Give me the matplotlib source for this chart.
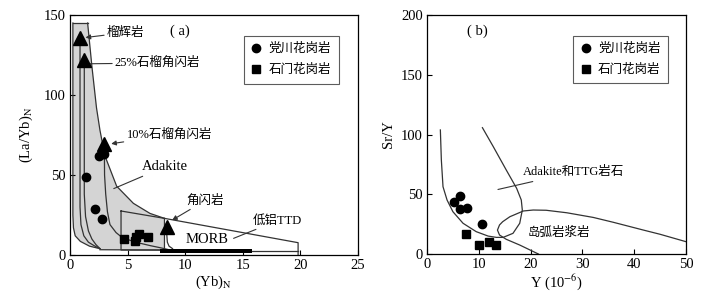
import matplotlib
matplotlib.use('Agg')
import matplotlib.pyplot as plt
from matplotlib.patches import Polygon

plt.rcParams['font.family'] = ['Liberation Serif', 'Noto Sans CJK SC']
plt.rcParams['mathtext.fontset'] = 'stix'
plt.rcParams['axes.linewidth'] = 0.9

# ---- panel (a): (Yb)N vs (La/Yb)N ----
dc_yb = [1.39, 2.17, 2.75, 2.54, 2.95]
dc_layb = [49, 28.5, 22.5, 62, 63]
sm_yb = [4.65, 5.6, 5.95, 6.8, 5.75]
sm_layb = [10.3, 8.8, 13.0, 11.0, 11.5]
tri_yb = [0.87, 1.24, 2.98, 8.38]
tri_layb = [135.5, 122, 69.5, 17.7]

# field boundaries
adakite_right_x = [1.53, 1.9, 2.3, 2.6, 3.03, 4.05, 5.5, 6.94, 8.2]
adakite_right_y = [145, 118, 92, 78, 62, 43, 32.3, 26, 22.9]
outer_left_x = [0.25, 0.25, 0.3, 0.45, 0.9, 1.7, 2.6]
outer_left_y = [145, 25, 17, 12, 8.5, 5.5, 4.0]
ecl_x = [0.87, 0.87, 0.95, 1.2, 1.6, 2.1, 2.6]
ecl_y = [135, 30, 19, 12, 8, 5.8, 4.0]
g25_x = [1.24, 1.24, 1.35, 1.6, 1.9, 2.25, 2.6]
g25_y = [122, 38, 24, 15, 10, 6.5, 4.0]
g10_x = [2.98, 3.0, 3.1, 3.25, 3.47, 4.0, 4.43, 5.2, 6.0, 7.0, 7.8, 8.6]
g10_y = [69, 50, 38, 27, 19, 14, 11.5, 9.2, 7.5, 5.8, 4.6, 3.3]
amph_x = [4.43, 8.2, 8.2, 4.43, 4.43]
amph_y = [27.5, 22.9, 3.1, 3.1, 27.5]
amph_curve_x = [8.38, 8.45, 8.6, 8.9]
amph_curve_y = [15, 8, 5.5, 4.0]
ttd_x = [8.2, 19.8, 19.8]
ttd_y = [22.9, 7.7, 0]
ttd_base_x = [8.2, 19.8]
ttd_base_y = [2.7, 2.7]
morb_x = [7.8, 15.8]
morb_y = [1.0, 4.0]

# ---- panel (b): Y vs Sr/Y ----
dc_y = [5.2, 6.44, 6.44, 7.8, 10.6]
dc_sry = [43.2, 48.8, 37.4, 38.2, 25.1]
sm_y = [7.6, 10.0, 11.9, 13.3]
sm_sry = [16.7, 7.5, 9.8, 7.5]

adk_x = [2.58, 2.77, 3.09, 3.87, 5.0, 6.96, 9.5, 11.8, 13.4, 14.7, 16.6,
         17.9, 18.4, 18.2, 17.3, 15.3, 12.8, 10.7]
adk_y = [103.8, 78.7, 56.3, 45.2, 35.4, 25.7, 18.7, 15.0, 13.9, 13.9, 17.3,
         25.7, 36.8, 45.2, 55.0, 70.3, 89.8, 105.7]
arc_x = [50, 45, 41.8, 36, 32.1, 27, 23, 20.5, 18.6, 16, 14.6, 14.0, 13.6,
         14.0, 15.3, 17.9, 21.5]
arc_y = [10.3, 16.5, 20, 26.5, 30.6, 34.5, 36.6, 36.8, 36.0, 31.2, 27,
         24.3, 20, 15.9, 12.3, 7.5, 0]

fig = plt.figure(figsize=(7.09, 3.08), dpi=100)
ax1 = fig.add_axes([70 / 709, 53 / 308, 288 / 709, 240 / 308])
ax2 = fig.add_axes([427 / 709, 54 / 308, 259 / 709, 239 / 308])

lc = '#333333'
lw = 0.9

# gray adakite field
gx = outer_left_x[:1] + adakite_right_x + [8.2, 8.2, 2.6] + outer_left_x[::-1][1:]
gy = [145] + adakite_right_y + [22.9, 3.1, 3.3] + outer_left_y[::-1][1:]
ax1.add_patch(Polygon(list(zip(gx, gy)), closed=True, facecolor='#d4d4d4',
                      edgecolor='none', zorder=1))
ax1.plot([0.25, 1.53], [145, 145], color=lc, lw=lw, zorder=2)
ax1.plot(adakite_right_x, adakite_right_y, color=lc, lw=lw, zorder=2)
ax1.plot(outer_left_x, outer_left_y, color=lc, lw=lw, zorder=2)
ax1.plot(ecl_x, ecl_y, color=lc, lw=lw, zorder=2)
ax1.plot(g25_x, g25_y, color=lc, lw=lw, zorder=2)
ax1.plot(g10_x, g10_y, color=lc, lw=lw, zorder=2)
ax1.plot([2.6, 8.2], [3.3, 3.1], color=lc, lw=lw, zorder=2)
ax1.plot(amph_x, amph_y, color=lc, lw=lw, zorder=2)
ax1.plot(amph_curve_x, amph_curve_y, color=lc, lw=lw, zorder=2)
ax1.plot(ttd_x, ttd_y, color=lc, lw=lw, zorder=2)
ax1.plot(ttd_base_x, ttd_base_y, color=lc, lw=lw, zorder=2)
ax1.fill_between(morb_x, morb_y[0], morb_y[1], color='black', lw=0, zorder=3)

ax1.plot(tri_yb, tri_layb, '^', color='black', ms=9.5, zorder=4)
ax1.plot(dc_yb, dc_layb, 'o', color='black', ms=6, ls='none', zorder=5,
         label='党川花岗岩')
ax1.plot(sm_yb, sm_layb, 's', color='black', ms=6, ls='none', zorder=5,
         label='石门花岗岩')

fs = 9
ls = 10.5
arrow = dict(arrowstyle='-|>', color=lc, lw=0.8, mutation_scale=7,
             shrinkA=0, shrinkB=4)
line = dict(arrowstyle='-', color=lc, lw=0.8, shrinkA=0, shrinkB=0)
ax1.annotate('榴辉岩', xy=(0.87, 135.5), xytext=(3.2, 139), fontsize=fs,
             va='center', arrowprops=arrow)
ax1.annotate('25%石榴角闪岩', xy=(1.45, 119.5), xytext=(3.9, 120), fontsize=fs,
             va='center', arrowprops=line)
ax1.annotate('10%石榴角闪岩', xy=(3.1, 69), xytext=(4.9, 75), fontsize=fs,
             va='center', arrowprops=arrow)
ax1.annotate('Adakite', xy=(3.8, 41.5), xytext=(6.2, 55), fontsize=ls,
             va='center', arrowprops=line)
ax1.annotate('角闪岩', xy=(8.45, 20), xytext=(10.1, 34), fontsize=fs,
             va='center', arrowprops=arrow)
ax1.annotate('低铝TTD', xy=(14.2, 10.4), xytext=(15.9, 21.5), fontsize=fs,
             va='center', arrowprops=line)
ax1.text(10.0, 9.5, 'MORB', fontsize=ls, va='center')
ax1.text(8.7, 140, '( a)', fontsize=ls, va='center')

ax1.set_xlim(0, 25)
ax1.set_ylim(0, 150)
ax1.set_xticks([0, 5, 10, 15, 20, 25])
ax1.set_yticks([0, 50, 100, 150])
ax1.set_xlabel('(Yb)$_\\mathrm{N}$', fontsize=ls, labelpad=1)
ax1.set_ylabel('(La/Yb)$_\\mathrm{N}$', fontsize=ls, labelpad=6)

# panel (b)
ax2.plot(adk_x, adk_y, color=lc, lw=lw)
ax2.plot(arc_x, arc_y, color=lc, lw=lw)
ax2.plot(dc_y, dc_sry, 'o', color='black', ms=6, ls='none',
         label='党川花岗岩')
ax2.plot(sm_y, sm_sry, 's', color='black', ms=6, ls='none',
         label='石门花岗岩')
ax2.annotate('Adakite和TTG岩石', xy=(13.7, 54), xytext=(18.6, 68.5),
             fontsize=fs, va='center',
             arrowprops=dict(arrowstyle='-', color=lc, lw=0.8, shrinkA=2, shrinkB=0))
ax2.text(19.5, 18, '岛弧岩浆岩', fontsize=fs, va='center')
ax2.text(7.7, 186.5, '( b)', fontsize=ls, va='center')
ax2.set_xlim(0, 50)
ax2.set_ylim(0, 200)
ax2.set_xticks([0, 10, 20, 30, 40, 50])
ax2.set_yticks([0, 50, 100, 150, 200])
ax2.set_xlabel('Y (10$^{-6}$)', fontsize=ls, labelpad=1)
ax2.set_ylabel('Sr/Y', fontsize=ls, labelpad=4)

for ax in (ax1, ax2):
    ax.tick_params(direction='in', length=3.5, width=0.8, labelsize=ls,
                   pad=3)
    leg = ax.legend(loc='upper right', bbox_to_anchor=(0.955, 0.94),
                    fontsize=fs, frameon=True, fancybox=False,
                    edgecolor='#333333', handlelength=0.8, handletextpad=0.6,
                    borderpad=0.6, labelspacing=0.7, numpoints=1)
    leg.get_frame().set_linewidth(0.8)

fig.savefig('out.png', dpi=100)
